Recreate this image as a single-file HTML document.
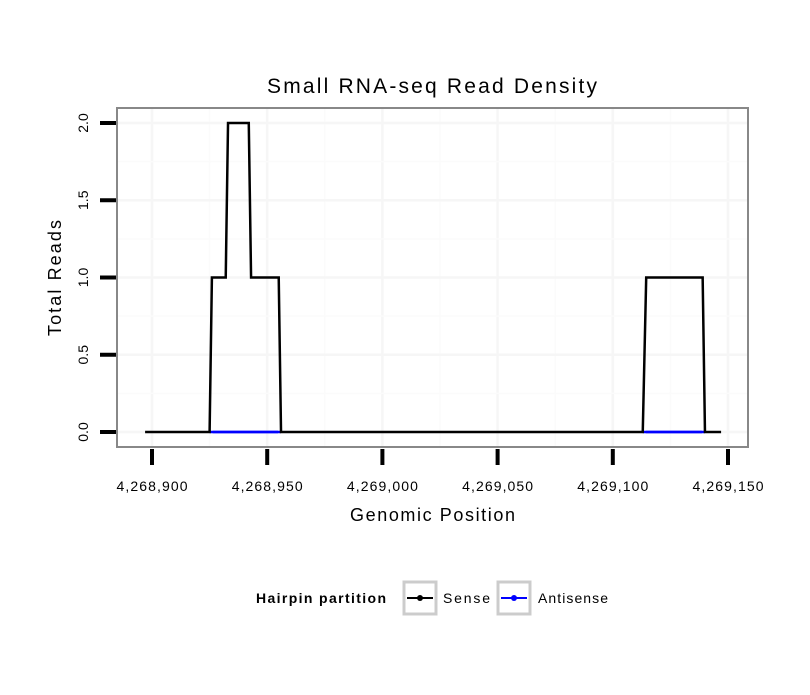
<!DOCTYPE html>
<html><head><meta charset="utf-8"><style>
body{margin:0;background:#fff;}
svg text{font-family:"Liberation Sans",sans-serif;}
</style></head><body>
<svg width="810" height="690" xmlns="http://www.w3.org/2000/svg" id="chart">
<text x="267" y="93" font-size="21" textLength="330" lengthAdjust="spacing">Small RNA-seq Read Density</text>
<g id="grid"></g>
<g id="yaxis"></g>
<g id="xaxis"></g>
<g id="series"></g>
<rect x="117" y="108" width="631" height="339" fill="none" stroke="#888" stroke-width="2"/>
<text x="350" y="521" font-size="18" textLength="165" lengthAdjust="spacing">Genomic Position</text>
<text transform="translate(61,336) rotate(-90)" font-size="18" textLength="116" lengthAdjust="spacing">Total Reads</text>
<g>
<text x="256" y="603" font-size="14" font-weight="bold" textLength="130" lengthAdjust="spacing">Hairpin partition</text>
<g>
<rect x="404" y="582" width="32" height="32" fill="#fff" stroke="#ccc" stroke-width="3"/>
<line x1="407" y1="598" x2="433" y2="598" stroke="#000" stroke-width="2"/><circle cx="420" cy="598" r="3" fill="#000"/>
<text x="443" y="603" font-size="14" textLength="47" lengthAdjust="spacing">Sense</text></g>
<g>
<rect x="498" y="582" width="32" height="32" fill="#fff" stroke="#ccc" stroke-width="3"/>
<line x1="501" y1="598" x2="527" y2="598" stroke="#00f" stroke-width="2"/><circle cx="514" cy="598" r="3" fill="#00f"/>
<text x="538" y="603" font-size="14" textLength="70" lengthAdjust="spacing">Antisense</text></g>
</g>
</svg>
<script>
const xTicks=[4268900,4268950,4269000,4269050,4269100,4269150];
const yTicks=[0,0.5,1.0,1.5,2.0];
const yTickLabels=["0.0","0.5","1.0","1.5","2.0"];
const senseX=[4268897,4268925,4268926,4268932,4268933,4268942,4268943,4268955,4268956,4269113,4269114.5,4269139,4269140,4269147];
const senseY=[0,0,1,1,2,2,1,1,0,0,1,1,0,0];
const antiX=[[4268925,4268956],[4269113,4269140]];
const antiY=[[0,0],[0,0]];
const NS="http://www.w3.org/2000/svg";
const sx=v=>152+(v-4268900)*576/250;
const sy=v=>432-v*154.5;
function mk(tag,attrs,parent){const e=document.createElementNS(NS,tag);for(const k in attrs)e.setAttribute(k,attrs[k]);parent.appendChild(e);return e;}
const grid=document.getElementById('grid'),ya=document.getElementById('yaxis'),xa=document.getElementById('xaxis'),se=document.getElementById('series');
mk('rect',{x:117,y:108,width:631,height:339,fill:'#fff'},grid);
for(let i=0;i<xTicks.length;i++){
 const x=sx(xTicks[i]);
 if(i<xTicks.length-1){const xm=sx((xTicks[i]+xTicks[i+1])/2);const m=mk('line',{x1:xm,x2:xm,y1:109,y2:446,stroke:'#fbfbfb','stroke-width':1.5},grid);}
 const g=mk('line',{x1:x,x2:x,y1:109,y2:446,stroke:'#f6f6f6','stroke-width':2.5},grid);
 
 const t=mk('line',{x1:x,x2:x,y1:449,y2:465,stroke:'#000','stroke-width':4},xa);
 
 const l=mk('text',{x:x-35.5,y:491,'font-size':14,textLength:71,lengthAdjust:'spacing'},xa);l.textContent=xTicks[i].toLocaleString('en-US');
 
}
for(let i=0;i<yTicks.length;i++){
 const y=sy(yTicks[i]);
 if(i<yTicks.length-1){const ym=sy((yTicks[i]+yTicks[i+1])/2);const m=mk('line',{x1:118,x2:747,y1:ym,y2:ym,stroke:'#fbfbfb','stroke-width':1.5},grid);}
 const g=mk('line',{x1:118,x2:747,y1:y,y2:y,stroke:'#f6f6f6','stroke-width':2.5},grid);
 
 const t=mk('line',{x1:100,x2:116,y1:y,y2:y,stroke:'#000','stroke-width':4},ya);
 
 const l=mk('text',{transform:`translate(88,${y}) rotate(-90)`,'text-anchor':'middle','font-size':14},ya);l.textContent=yTickLabels[i];
 
}
for(let s=0;s<antiX.length;s++){
 const p=mk('polyline',{points:antiX[s].map((v,j)=>sx(v)+','+sy(antiY[s][j])).join(' '),fill:'none',stroke:'#00f','stroke-width':2.5},se);
 
}
const sp=mk('polyline',{points:senseX.map((v,j)=>sx(v)+','+sy(senseY[j])).join(' '),fill:'none',stroke:'#000','stroke-width':2.5,'stroke-linejoin':'miter'},se);

for(let s=0;s<antiX.length;s++){
 const p=mk('line',{x1:sx(antiX[s][0])+3,x2:sx(antiX[s][1])-3,y1:sy(0),y2:sy(0),stroke:'#00f','stroke-width':2.5},se);
 
}
</script>
</body></html>
